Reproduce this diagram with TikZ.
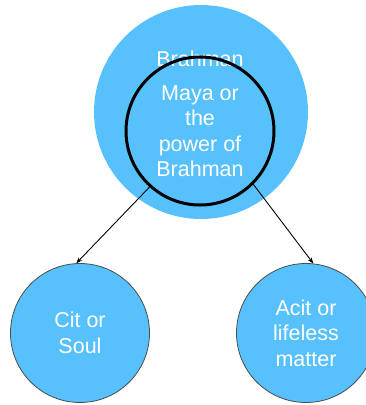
\documentclass[tikz,border=0pt]{standalone}
\usepackage{fontspec}
\setmainfont{Liberation Sans}
\usetikzlibrary{arrows.meta}
\definecolor{skyb}{RGB}{87,193,254}
\begin{document}
\begin{tikzpicture}[x=1pt,y=-1pt,
  txt/.style={text=white,font=\fontsize{21.5}{25.5}\selectfont,align=center,inner sep=0pt},
  bigc/.style={circle,fill=skyb,minimum size=214pt,inner sep=0pt},
  innerc/.style={circle,draw=black,line width=3pt,minimum size=148pt,inner sep=0pt,txt},
  smallc/.style={circle,fill=skyb,draw=black!70,line width=0.8pt,minimum size=139pt,inner sep=0pt,txt},
  conn/.style={line width=0.9pt,-{Stealth[length=6pt,width=4.5pt]}}]
\useasboundingbox (0,0) rectangle (366,405);
\node[bigc] (brahman) at (201,112) {};
\node[txt] (brahmanlbl) at (200,59) {Brahman};
\node[innerc] (maya) at (200,131) {Maya or\\the\\power of\\Brahman};
\node[smallc] (cit) at (80,333) {Cit or\\Soul};
\node[smallc] (acit) at (306,333) {Acit or\\lifeless\\matter};
\draw[conn] (maya.228) -- (cit.93);
\draw[conn] (maya.315) -- (acit.84);
\end{tikzpicture}
\end{document}
